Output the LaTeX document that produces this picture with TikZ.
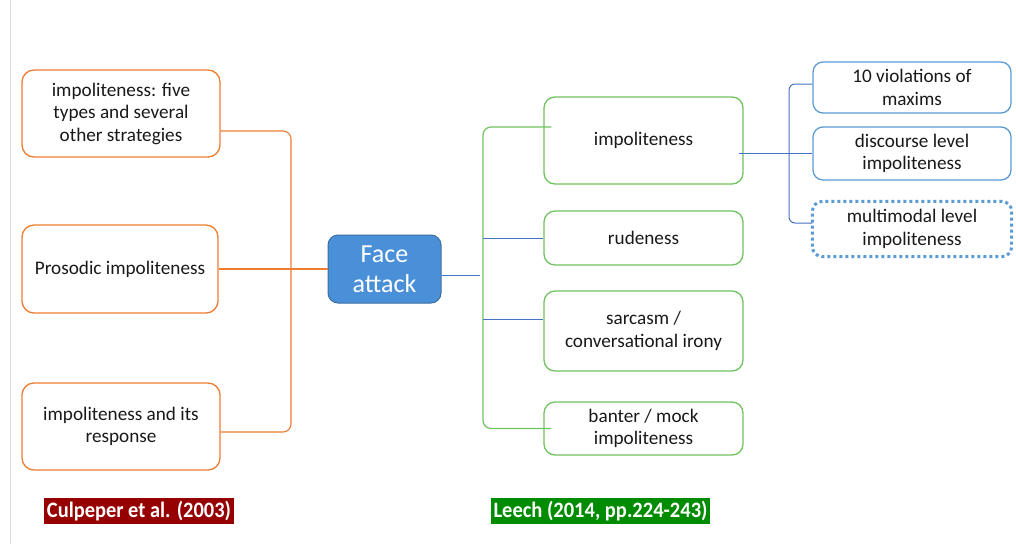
\documentclass[tikz,border=0pt]{standalone}
\usepackage{fontspec}
\usepackage{graphicx}
\setmainfont{Carlito}
\definecolor{orangeC}{RGB}{237,125,49}
\definecolor{greenC}{RGB}{112,196,96}
\definecolor{lineB}{RGB}{68,114,196}
\definecolor{boxB}{RGB}{91,155,213}
\definecolor{faceF}{RGB}{74,144,217}
\definecolor{faceD}{RGB}{60,110,160}
\definecolor{culred}{RGB}{150,0,0}
\definecolor{leechG}{RGB}{0,140,0}
\definecolor{grayL}{RGB}{220,220,220}
\begin{document}
\begin{tikzpicture}[x=1pt,y=-1pt,
  txt/.style={font=\fontsize{19.2}{22.5}\selectfont, align=center, text=black!90},
  obox/.style={txt, draw=orangeC, line width=1.3pt, rounded corners=12pt, minimum width=198pt, minimum height=87pt, inner sep=0pt},
  gbox/.style={txt, draw=greenC, line width=1.3pt, rounded corners=11pt, minimum width=199pt, inner sep=0pt},
  bbox/.style={txt, draw=boxB, line width=1.3pt, rounded corners=10pt, minimum width=198pt, inner sep=0pt},
  face/.style={fill=faceF, draw=faceD, line width=1pt, rounded corners=10pt, minimum width=113pt, minimum height=68pt, text=white, align=center, font=\fontsize{26}{30}\selectfont, inner sep=0pt},
  oline/.style={draw=orangeC, line width=1.1pt},
  gline/.style={draw=greenC, line width=1.2pt},
  bline/.style={draw=lineB, line width=1pt},
  lab/.style={text=white, font=\fontsize{22}{24}\selectfont\bfseries, inner sep=0pt, minimum height=26pt}
]
\useasboundingbox (0,0) rectangle (1016,544);
\fill[white] (0,0) rectangle (1016,544);
\draw[grayL, line width=1pt] (10.5,0) -- (10.5,544);

% left orange boxes
\node[obox] (o1) at (121,113.5) {impoliteness: five\\types and several\\other strategies};
\node[obox, minimum width=196pt, minimum height=88pt] (o2) at (120,269) {Prosodic impoliteness};
\node[obox] (o3) at (121,426.5) {impoliteness and its\\response};

% centre
\node[face] (fa) at (384.5,269) {Face\\attack};

% green boxes
\node[gbox, minimum height=87pt] (g1) at (643.5,140.5) {impoliteness};
\node[gbox, minimum height=54pt] (g2) at (643.5,238) {rudeness};
\node[gbox, minimum height=80pt] (g3) at (643.5,331) {sarcasm /\\conversational irony};
\node[gbox, minimum height=53pt] (g4) at (643.5,428.5) {banter / mock\\impoliteness};

% blue boxes
\node[bbox, minimum height=51pt] (b1) at (912,87.5) {10 violations of\\maxims};
\node[bbox, minimum height=53pt] (b2) at (912,153.5) {discourse level\\impoliteness};
\node[bbox, minimum height=54pt, draw=none] (b3) at (912,229) {multimodal level\\impoliteness};
\draw[boxB, line width=3pt, dash pattern=on 3pt off 3pt, rounded corners=10pt] (b3.south west) rectangle (b3.north east);

% orange connectors
\coordinate (ox) at (291,272);
\draw[oline, rounded corners=8pt] ([yshift=-17.5pt]o1.east) -| (ox) |- ([yshift=-5.5pt]o3.east);
\draw[oline] (o2.east) -- (fa.west);

% face to green bracket
\coordinate (gx) at (483,275);
\draw[bline] ([yshift=-6pt]fa.east) -- ([xshift=-3pt]gx);
\draw[gline, rounded corners=8pt] ([xshift=8pt,yshift=13.5pt]g1.west) -| (gx) |- ([xshift=8pt]g4.west);
\draw[bline] (gx |- g2.west) -- (g2.west);
\draw[bline] ([yshift=12pt]g3.west -| gx) -- ([yshift=12pt]g3.west);

% impoliteness to blue boxes
\coordinate (bx) at (789,154);
\draw[bline] ([xshift=-5pt]g1.east |- b2.west) -- (b2.west);
\draw[bline, rounded corners=6pt] ([yshift=3.5pt]b1.west) -| (bx) |- ([yshift=6pt]b3.west);

% source labels
\node[lab, fill=culred, minimum width=190pt] (l1) at (139,511) {\resizebox{184pt}{\height}{Culpeper et al. (2003)}};
\node[lab, fill=leechG, minimum width=219pt] (l2) at (600.5,511) {\resizebox{214pt}{\height}{Leech (2014, pp.224-243)}};
\end{tikzpicture}
\end{document}
